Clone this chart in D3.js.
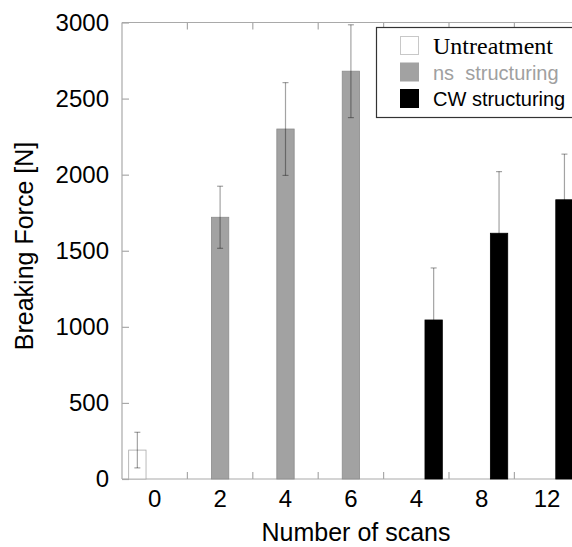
<!DOCTYPE html>
<html>
<head>
<meta charset="utf-8">
<script src="https://cdn.jsdelivr.net/npm/d3@7"></script>
<style>
  body { margin: 0; background: #fff; }
</style>
</head>
<body>
<div id="chart"></div>
<script>
// data
var categories = ["0", "2", "4", "6", "4", "8", "12"]
var seriesNames = ["Untreatment", "ns  structuring", "CW structuring"]
var seriesOf = [0, 1, 1, 1, 2, 2, 2]
var means = [190, 1720, 2300, 2680, 1045, 1615, 1835]
var errors = [117, 204, 305, 305, 342, 405, 300]
var yTicks = [0, 500, 1000, 1500, 2000, 2500, 3000]

var seriesFill = ["#ffffff", "#a2a2a2", "#000000"]
var seriesStroke = ["#a8a8a8", "#8c8c8c", "#000000"]

function draw_chart() {
    var width = 572, height = 547
    var plotLeft = 122, plotTop = 22.5, plotBottom = 479
    var step = 65.4

    var svg = d3.select("#chart").append("svg")
        .attr("width", width)
        .attr("height", height)
        .attr("font-family", "Liberation Sans, Arial, sans-serif")

    var idx = categories.map(function (d, i) { return i })
    var plotRight = plotLeft + step * categories.length

    var x = d3.scaleBand()
        .domain(idx)
        .range([plotLeft, plotRight])
        .padding(0)

    var xs = d3.scaleBand()
        .domain([0, 1, 2])
        .range([0, x.bandwidth()])
        .paddingInner(0)
        .paddingOuter(0.385)

    var y = d3.scaleLinear()
        .domain([0, 3000])
        .range([plotBottom, plotTop])

    var axisColor = "#a9a9a9"

    // frame
    svg.append("line").attr("x1", plotLeft).attr("x2", plotRight).attr("y1", plotBottom).attr("y2", plotBottom)
        .attr("stroke", axisColor).attr("stroke-width", 1.2)
    svg.append("line").attr("x1", plotLeft).attr("x2", plotRight).attr("y1", plotTop).attr("y2", plotTop)
        .attr("stroke", axisColor).attr("stroke-width", 1.2)
    svg.append("line").attr("x1", plotLeft).attr("x2", plotLeft).attr("y1", plotTop).attr("y2", plotBottom)
        .attr("stroke", axisColor).attr("stroke-width", 1.2)

    // y axis, ticks pointing inward
    var yAxis = d3.axisLeft(y).tickValues(yTicks).tickFormat(d3.format("d"))
        .tickSize(-7).tickPadding(13)
    var gy = svg.append("g").attr("transform", "translate(" + plotLeft + ",0)").call(yAxis)
    gy.select(".domain").remove()
    gy.selectAll(".tick line").attr("stroke", axisColor).attr("stroke-width", 1.2)
    gy.selectAll(".tick text").attr("font-size", 24).attr("fill", "#000")
        .attr("font-family", "Liberation Sans, Arial, sans-serif")

    // x axis labels
    var xAxis = d3.axisBottom(x).tickFormat(function (i) { return categories[i] }).tickSize(0).tickPadding(10.5)
    var gx = svg.append("g").attr("transform", "translate(0," + plotBottom + ")").call(xAxis)
    gx.select(".domain").remove()
    gx.selectAll(".tick text").attr("font-size", 24).attr("fill", "#000")
        .attr("font-family", "Liberation Sans, Arial, sans-serif")

    // inward ticks between categories (bottom and top)
    var bounds = idx.slice(1).map(function (i) { return x(i) })
    svg.selectAll("line.xtb").data(bounds).enter().append("line")
        .attr("x1", function (d) { return d }).attr("x2", function (d) { return d })
        .attr("y1", plotBottom).attr("y2", plotBottom - 7)
        .attr("stroke", axisColor).attr("stroke-width", 1.2)
    svg.selectAll("line.xtt").data(bounds).enter().append("line")
        .attr("x1", function (d) { return d }).attr("x2", function (d) { return d })
        .attr("y1", plotTop).attr("y2", plotTop + 7)
        .attr("stroke", axisColor).attr("stroke-width", 1.2)

    // bars
    var barX = function (i) { return x(i) + xs(seriesOf[i]) }
    svg.selectAll("rect.bar").data(idx).enter().append("rect")
        .attr("class", "bar")
        .attr("x", barX)
        .attr("width", xs.bandwidth())
        .attr("y", function (i) { return y(means[i]) })
        .attr("height", function (i) { return plotBottom - y(means[i]) })
        .attr("fill", function (i) { return seriesFill[seriesOf[i]] })
        .attr("stroke", function (i) { return seriesStroke[seriesOf[i]] })
        .attr("stroke-width", 0.8)

    // error bars
    var cx = function (i) { return barX(i) + xs.bandwidth() / 2 }
    var eb = svg.selectAll("g.err").data(idx).enter().append("g")
        .attr("stroke", "#000").attr("stroke-opacity", 0.36).attr("stroke-width", 1.2)
    eb.append("line")
        .attr("x1", cx).attr("x2", cx)
        .attr("y1", function (i) { return y(means[i] + errors[i]) })
        .attr("y2", function (i) { return y(means[i] - errors[i]) })
    eb.append("line")
        .attr("x1", function (i) { return cx(i) - 3 })
        .attr("x2", function (i) { return cx(i) + 3 })
        .attr("y1", function (i) { return y(means[i] + errors[i]) })
        .attr("y2", function (i) { return y(means[i] + errors[i]) })
    eb.append("line")
        .attr("x1", function (i) { return cx(i) - 3 })
        .attr("x2", function (i) { return cx(i) + 3 })
        .attr("y1", function (i) { return y(means[i] - errors[i]) })
        .attr("y2", function (i) { return y(means[i] - errors[i]) })

    // axis titles
    svg.append("text")
        .attr("x", 356).attr("y", 541)
        .attr("text-anchor", "middle")
        .attr("font-size", 25)
        .text("Number of scans")
    svg.append("text")
        .attr("transform", "translate(32.5,246) rotate(-90)")
        .attr("text-anchor", "middle")
        .attr("font-size", 25)
        .text("Breaking Force [N]")

    // legend
    var lg = svg.append("g")
    lg.append("rect")
        .attr("x", 376.5).attr("y", 27.5).attr("width", 220).attr("height", 90)
        .attr("fill", "#fff").attr("stroke", "#333").attr("stroke-width", 1.2)
    var rowsY = [46, 72.5, 99]
    var legendText = ["#000", "#a0a0a0", "#000"]
    var legendFont = ["Liberation Serif, Times New Roman, serif", "Liberation Sans, Arial, sans-serif", "Liberation Sans, Arial, sans-serif"]
    var legendSize = [24, 20, 20]
    seriesNames.forEach(function (name, k) {
        lg.append("rect")
            .attr("x", 400.5).attr("y", rowsY[k] - 9.5).attr("width", 18).attr("height", 18)
            .attr("fill", seriesFill[k])
            .attr("stroke", k === 0 ? "#c8c8c8" : seriesFill[k])
        lg.append("text")
            .attr("x", 433).attr("y", rowsY[k])
            .attr("dy", "0.35em")
            .attr("font-size", legendSize[k])
            .attr("font-family", legendFont[k])
            .attr("fill", legendText[k])
            .style("white-space", "pre")
            .text(name)
    })
}

draw_chart()
</script>
</body>
</html>
